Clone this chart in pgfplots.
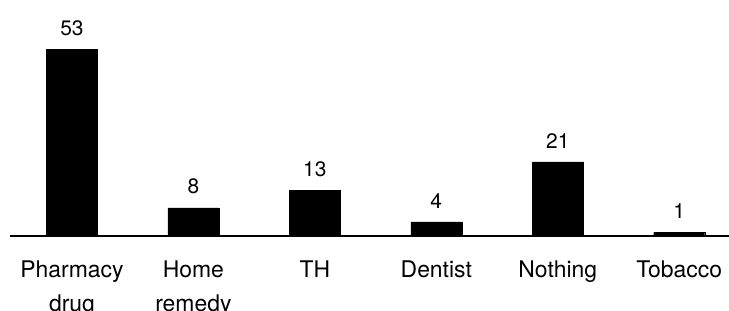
\documentclass[border=0pt]{standalone}
\usepackage{fontspec}
\setmainfont{TeX Gyre Heros}
\usepackage{pgfplots}
\pgfplotsset{compat=1.18}
\begin{document}
\begin{tikzpicture}
\begin{axis}[
  name=ax,
  scale only axis,
  width=719bp, height=236bp,
  xmin=-0.51, xmax=5.41,
  ymin=0, ymax=66.9,
  axis x line=bottom,
  axis y line=none,
  axis line style={-, line width=1.3bp, black},
  xtick=data,
  xticklabels={{Pharmacy\\drug},{Home\\remedy},TH,Dentist,Nothing,Tobacco},
  major tick length=0pt,
  xticklabel style={align=center, font=\fontsize{23}{34}\selectfont, yshift=-21bp},
  ytick=\empty,
  /pgf/number format/assume math mode=true,
  ybar, bar width=0.42,
  nodes near coords,
  nodes near coords style={font=\fontsize{21}{24}\selectfont, yshift=10bp},
  clip=false,
]
\addplot[fill=black, draw=black] coordinates {(0,53) (1,8) (2,13) (3,4) (4,21) (5,1)};
\end{axis}
\pgfresetboundingbox
\path[use as bounding box] ([shift={(-10bp,-75bp)}]ax.south west) rectangle (ax.north east);
\end{tikzpicture}
\end{document}
